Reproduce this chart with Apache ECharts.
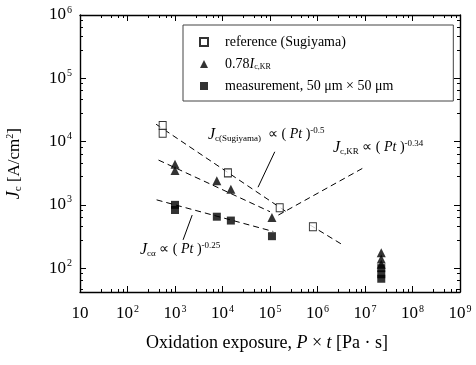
<!DOCTYPE html>
<html>
<head>
<meta charset="utf-8">
<script src="https://cdn.jsdelivr.net/npm/echarts@6/dist/echarts.min.js"></script>
<style>
html, body { margin: 0; padding: 0; background: #fff; }
#chart { width: 476px; height: 365px; }
</style>
</head>
<body>
<div id="chart"></div>
<script>
// values: [P x t (Pa s), Jc (A/cm2)]
var refSugiyama = [[550, 18000], [550, 13500], [13000, 3200], [160000, 900], [800000, 450]]
var sweep078 = [[1000, 4400], [1000, 3500], [7600, 2400], [15000, 1760], [110000, 630],
  [22000000, 175], [22000000, 140], [22000000, 115]]
var measured = [[1000, 1000], [1000, 830], [7600, 650], [15000, 565], [110000, 320],
  [22000000, 100], [22000000, 80], [22000000, 68]]

// fitted power-law lines and leader lines (end points)
var fitSugiyama = [[400, 18800], [250000, 730]]
var fitSugiyama2 = [[700000, 480], [3500000, 230]]
var fitSweep = [[450, 5100], [100000, 780]]
var fitMeasured = [[410, 1200], [117000, 380]]
var leaderKR = [[150000, 690], [9000000, 3800]]
var leaderSugiyama = [[56000, 1900], [126000, 6900]]
var leaderMeasured = [[1480, 280], [2300, 690]]

var legendNames = ['ref', 'sweep', 'meas']
var legendLabels = {
  ref: '{t|reference (Sugiyama)}',
  sweep: '{t|0.78}{i|I}{sub|c,KR}',
  meas: '{t|measurement, 50 μm × 50 μm}'
}

var serif = 'Liberation Serif'
var black = '#000'

var chart = echarts.init(document.getElementById('chart'))

function powLabel(value) {
  var e = Math.round(Math.log10(value))
  if (e === 1) return '{b|10}'
  return '{b|10}{s|' + e + '}'
}

var labelRich = {
  b: { fontFamily: serif, fontSize: 17, color: black, lineHeight: 20 },
  s: { fontFamily: serif, fontSize: 10, color: black, verticalAlign: 'top', lineHeight: 20, padding: [0, 0, 6, 1] }
}

function makeAxis(kind, pos, withLabels) {
  var ax = {
    type: 'log',
    logBase: 10,
    position: pos,
    axisLine: { show: true, onZero: false, lineStyle: { color: black, width: 1.4 } },
    axisTick: { show: true, inside: true, length: 6, lineStyle: { color: black } },
    minorTick: { show: true, splitNumber: 5, length: 3, lineStyle: { color: black } },
    splitLine: { show: false },
    minorSplitLine: { show: false },
    axisLabel: {
      show: withLabels,
      formatter: powLabel,
      rich: labelRich,
      margin: kind === 'x' ? 12 : 8
    }
  }
  if (kind === 'x') {
    ax.min = 10
    ax.max = 1e9
  } else {
    ax.min = 42
    ax.max = 1e6
    ax.axisLabel.showMinLabel = false
  }
  return ax
}

function lineSeries(data, dashed) {
  return {
    type: 'line',
    data: data,
    showSymbol: false,
    silent: true,
    lineStyle: { color: black, width: 1, type: dashed ? [6, 4] : 'solid' },
    z: 1
  }
}

var subRich = {
  j: { fontFamily: serif, fontSize: 16, fontStyle: 'italic', fill: black },
  c: { fontFamily: serif, fontSize: 9, fill: black, verticalAlign: 'bottom', padding: [8, 0, 0, 0] },
  t: { fontFamily: serif, fontSize: 14, fill: black },
  i: { fontFamily: serif, fontSize: 14, fontStyle: 'italic', fill: black },
  s: { fontFamily: serif, fontSize: 9, fill: black, verticalAlign: 'top', padding: [0, 0, 8, 0] }
}

var option = {
  animation: false,
  textStyle: { fontFamily: serif },
  grid: { left: 80, right: 16, top: 15, bottom: 73 },
  xAxis: [makeAxis('x', 'bottom', true), makeAxis('x', 'top', false)],
  yAxis: [makeAxis('y', 'left', true), makeAxis('y', 'right', false)],
  legend: {
    data: legendNames,
    orient: 'vertical',
    left: 183,
    top: 25,
    padding: [10, 60, 8, 16],
    itemGap: 8,
    itemWidth: 8,
    itemHeight: 8,
    borderColor: '#444',
    borderWidth: 1,
    formatter: function (name) { return legendLabels[name] },
    textStyle: {
      rich: {
        t: { fontFamily: serif, fontSize: 14, color: black, padding: [0, 0, 0, 12] },
        i: { fontFamily: serif, fontSize: 14, fontStyle: 'italic', color: black },
        sub: { fontFamily: serif, fontSize: 8, color: black, verticalAlign: 'bottom', padding: [6, 0, 0, 0] }
      }
    }
  },
  series: [
    {
      name: 'ref',
      type: 'scatter',
      symbol: 'rect',
      symbolSize: [7, 8],
      itemStyle: { color: '#fff', borderColor: black, borderWidth: 1 },
      data: refSugiyama,
      z: 3
    },
    {
      name: 'sweep',
      type: 'scatter',
      symbol: 'triangle',
      symbolSize: 9,
      itemStyle: { color: black },
      data: sweep078,
      z: 3
    },
    {
      name: 'meas',
      type: 'scatter',
      symbol: 'rect',
      symbolSize: 8,
      itemStyle: { color: black },
      data: measured,
      z: 3
    },
    lineSeries(fitSugiyama, true),
    lineSeries(fitSugiyama2, true),
    lineSeries(fitSweep, true),
    lineSeries(fitMeasured, true),
    lineSeries(leaderKR, true),
    lineSeries(leaderSugiyama, false),
    lineSeries(leaderMeasured, false)
  ],
  graphic: [
    {
      type: 'text',
      left: 5,
      top: 128,
      rotation: Math.PI / 2,
      style: {
        text: '{j|J}{c|c}{t| [A/cm}{s|2}{t|]}',
        rich: {
          j: { fontFamily: serif, fontSize: 18, fontStyle: 'italic', fill: black },
          c: { fontFamily: serif, fontSize: 11, fill: black, verticalAlign: 'bottom', padding: [8, 0, 0, 0] },
          t: { fontFamily: serif, fontSize: 17, fill: black },
          s: { fontFamily: serif, fontSize: 10, fill: black, verticalAlign: 'top', padding: [0, 0, 8, 0] }
        }
      }
    },
    {
      type: 'text',
      left: 146,
      top: 334,
      style: {
        text: '{t|Oxidation exposure, }{i|P}{t| × }{i|t}{t| [Pa · s]}',
        rich: {
          t: { fontFamily: serif, fontSize: 18, fill: black },
          i: { fontFamily: serif, fontSize: 18, fontStyle: 'italic', fill: black }
        }
      }
    },
    {
      type: 'text',
      left: 208,
      top: 126,
      style: { text: '{j|J}{c|c(Sugiyama)}{t|  ∝ ( }{i|Pt}{t| )}{s|-0.5}', rich: subRich }
    },
    {
      type: 'text',
      left: 333,
      top: 139,
      style: { text: '{j|J}{c|c,KR}{t| ∝ ( }{i|Pt}{t| )}{s|-0.34}', rich: subRich }
    },
    {
      type: 'text',
      left: 140,
      top: 241,
      style: { text: '{j|J}{c|cα}{t| ∝ ( }{i|Pt}{t| )}{s|-0.25}', rich: subRich }
    }
  ]
}

chart.setOption(option)
</script>
</body>
</html>
